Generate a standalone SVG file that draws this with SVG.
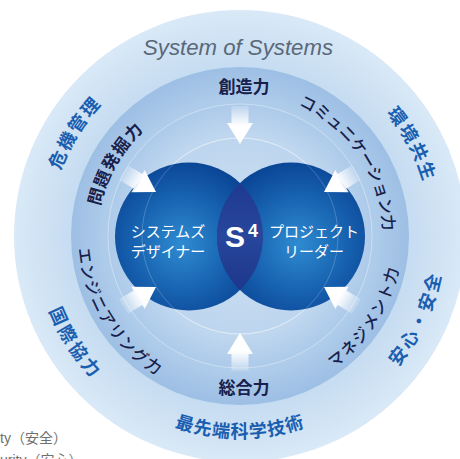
<svg xmlns="http://www.w3.org/2000/svg" width="460" height="459" viewBox="0 0 460 459">
<style>
.outer{font-family:"Noto Sans CJK JP","Noto Sans",sans-serif;font-weight:700;font-size:18px;fill:#1a5eb0}
.mid{font-family:"Noto Sans CJK JP","Noto Sans",sans-serif;font-weight:700;font-size:17px;fill:#17204b}
.kana{font-family:"Noto Sans CJK JP","Noto Sans",sans-serif;font-weight:500;font-size:16px;fill:#17204b}
.node{font-family:"Noto Sans CJK JP","Noto Sans",sans-serif;font-weight:400;font-size:15px;fill:#ffffff}
.gray{font-family:"Liberation Sans","Noto Sans CJK JP",sans-serif;font-size:14px;fill:#707070}
.arrow{fill:url(#arrowG)}
</style>
<defs>
<radialGradient id="outerG" gradientUnits="userSpaceOnUse" cx="240" cy="236" r="226">
<stop offset="0.75" stop-color="#c6dcf1"/><stop offset="1" stop-color="#d9e9f7"/>
</radialGradient>
<radialGradient id="midG" gradientUnits="userSpaceOnUse" cx="240" cy="236" r="169">
<stop offset="0.78" stop-color="#b0cdeb"/><stop offset="1" stop-color="#9dbfe4"/>
</radialGradient>
<radialGradient id="ring3G" gradientUnits="userSpaceOnUse" cx="240" cy="236" r="132">
<stop offset="0.74" stop-color="#c1d8ef"/><stop offset="1" stop-color="#adcaea"/>
</radialGradient>
<radialGradient id="innerG" gradientUnits="userSpaceOnUse" cx="240" cy="236" r="98">
<stop offset="0" stop-color="#cde1f3"/><stop offset="1" stop-color="#bdd5ee"/>
</radialGradient>
<radialGradient id="blueL" cx="0.45" cy="0.55" r="0.55">
<stop offset="0" stop-color="#2f8bd1"/><stop offset="0.6" stop-color="#1762b0"/><stop offset="1" stop-color="#0b4797"/>
</radialGradient>
<radialGradient id="blueR" cx="0.55" cy="0.55" r="0.55">
<stop offset="0" stop-color="#2f8bd1"/><stop offset="0.6" stop-color="#1762b0"/><stop offset="1" stop-color="#0b4797"/>
</radialGradient>
<linearGradient id="lensG" x1="0" y1="0" x2="0" y2="1">
<stop offset="0" stop-color="#1f3a90"/><stop offset="0.5" stop-color="#27469c"/><stop offset="1" stop-color="#1d378c"/>
</linearGradient>
<linearGradient id="arrowG" gradientUnits="userSpaceOnUse" x1="-38" y1="0" x2="-18" y2="0">
<stop offset="0" stop-color="#ffffff" stop-opacity="0.15"/><stop offset="1" stop-color="#ffffff" stop-opacity="1"/>
</linearGradient>
<path id="arrowShape" d="M0,0 L-21,-13 L-21,-8.5 L-38,-8.5 L-38,8.5 L-21,8.5 L-21,13 Z"/>
<path id="pKiki" d="M71.4,325.7 A191,191 0 0 1 246.7,45.1"/>
<path id="pKankyo" d="M246.7,45.1 A191,191 0 0 1 402.0,337.2"/>
<path id="pKokusai" d="M57.3,142.9 A205,205 0 0 0 250.7,440.7"/>
<path id="pAnshin" d="M257.9,440.2 A205,205 0 0 0 407.9,118.4"/>
<path id="pSaisentan" d="M65.1,337 A202,202 0 0 0 414.9,337"/>
<path id="pMondai" d="M116.2,307.5 A143,143 0 0 1 240,93"/>
<path id="pComm" d="M230,93.3 A143,143 0 0 1 368.5,298.7"/>
<path id="pEng" d="M97.0,159.9 A162,162 0 0 0 245.7,397.9"/>
<path id="pMng" d="M231.5,397.8 A162,162 0 0 0 384.3,162.5"/>
</defs>

<g id="rings">
<circle cx="240" cy="236" r="226" fill="url(#outerG)"/>
<circle cx="240" cy="236" r="169" fill="url(#midG)"/>
<circle cx="240" cy="236" r="132" fill="url(#ring3G)" stroke="#ffffff" stroke-opacity="0.35" stroke-width="1"/>
<circle cx="240" cy="236" r="98" fill="url(#innerG)" stroke="#ffffff" stroke-opacity="0.5" stroke-width="0.8"/>
</g>

<g id="node-designer">
<circle cx="189" cy="236.5" r="74" fill="url(#blueL)"/>
</g>
<g id="node-leader">
<circle cx="291" cy="236.5" r="74" fill="url(#blueR)"/>
</g>
<g id="node-s4">
<path d="M240,182.9 A74,74 0 0 1 240,290.1 A74,74 0 0 1 240,182.9 Z" fill="url(#lensG)"/>
</g>
<circle cx="240" cy="236" r="98" fill="none" stroke="#ffffff" stroke-opacity="0.3" stroke-width="0.7"/>

<g id="node-labels">
<text class="node" x="168" y="237" text-anchor="middle">システムズ</text>
<text class="node" x="168" y="257" text-anchor="middle">デザイナー</text>
<text class="node" x="314" y="237" text-anchor="middle">プロジェクト</text>
<text class="node" x="314" y="257" text-anchor="middle">リーダー</text>
<text x="225" y="247" font-family="Liberation Sans, Arial, sans-serif" font-weight="700" font-size="30" fill="#ffffff">S</text>
<text x="248" y="237" font-family="Liberation Sans, Arial, sans-serif" font-weight="700" font-size="18" fill="#ffffff">4</text>
</g>

<g id="connectors">
<use href="#arrowShape" class="arrow" transform="translate(240,144) rotate(90)"/>
<use href="#arrowShape" class="arrow" transform="translate(240,333) rotate(-90)"/>
<use href="#arrowShape" class="arrow" transform="translate(156,192) rotate(31)"/>
<use href="#arrowShape" class="arrow" transform="translate(324,192) rotate(149)"/>
<use href="#arrowShape" class="arrow" transform="translate(156,287) rotate(-31)"/>
<use href="#arrowShape" class="arrow" transform="translate(324,287) rotate(-149)"/>
</g>

<g id="ring-labels">
<text x="238" y="55" text-anchor="middle" font-family="Liberation Sans, Arial, sans-serif" font-style="italic" font-size="22" fill="#5b6879" textLength="190" lengthAdjust="spacingAndGlyphs">System of Systems</text>
<text class="mid" x="244" y="93" text-anchor="middle">創造力</text>
<text class="mid" x="244" y="394" text-anchor="middle">総合力</text>
<text class="outer" letter-spacing="2"><textPath href="#pKiki" startOffset="50%" text-anchor="middle">危機管理</textPath></text>
<text class="outer" letter-spacing="2"><textPath href="#pKankyo" startOffset="50%" text-anchor="middle">環境共生</textPath></text>
<text class="outer" letter-spacing="3"><textPath href="#pKokusai" startOffset="50%" text-anchor="middle">国際協力</textPath></text>
<text class="outer" letter-spacing="3"><textPath href="#pAnshin" startOffset="50%" text-anchor="middle">安心・安全</textPath></text>
<text class="outer" letter-spacing="1"><textPath href="#pSaisentan" startOffset="50%" text-anchor="middle">最先端科学技術</textPath></text>
<text class="mid" letter-spacing="1"><textPath href="#pMondai" startOffset="50%" text-anchor="middle">問題発掘力</textPath></text>
<text class="kana" font-size="15"><textPath href="#pComm" startOffset="50%" text-anchor="middle">コミュニケーション力</textPath></text>
<text class="kana" letter-spacing="1.3"><textPath href="#pEng" startOffset="50%" text-anchor="middle">エンジニアリング力</textPath></text>
<text class="kana" letter-spacing="1.5"><textPath href="#pMng" startOffset="50%" text-anchor="middle">マネジメント力</textPath></text>
</g>

<g id="side-notes">
<text class="gray" x="0" y="443">ty（安全）</text>
<text class="gray" x="0" y="465">urity（安心）</text>
</g>
</svg>
